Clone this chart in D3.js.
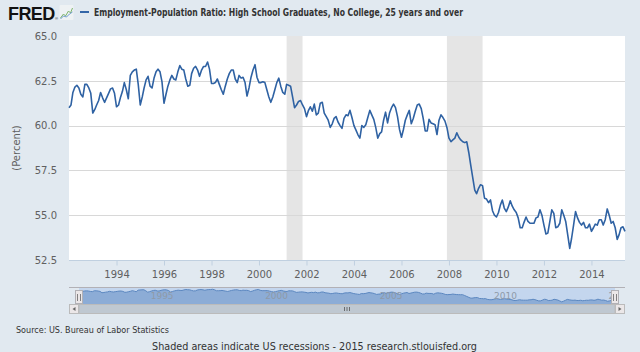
<!DOCTYPE html>
<html><head><meta charset="utf-8">
<script src="https://cdn.jsdelivr.net/npm/d3@7/dist/d3.min.js"></script>
<style>html,body{margin:0;padding:0;background:#e1e9f0;} svg{display:block;}</style>
</head><body>
<svg id="c" width="640" height="352"></svg>
<script>
const titleText = "Employment-Population Ratio: High School Graduates, No College, 25 years and over";
const yAxisTitle = "(Percent)";
const sourceText = "Source: US. Bureau of Labor Statistics";
const footerText = "Shaded areas indicate US recessions - 2015 research.stlouisfed.org";
const firstMonth = "1992-01";
const lastMonth = "2015-06";
// monthly values, Jan 1992 .. Jun 2015
const values = [
61.0,61.15,61.85,62.15,62.25,62.1,61.75,61.6,62.3,62.3,62.1,61.8,
60.7,60.9,61.15,61.4,61.85,61.55,61.3,61.55,61.8,62.05,62.1,61.8,
61.05,61.15,61.55,61.9,62.4,62.0,61.5,62.8,63.0,63.1,63.15,62.3,
61.15,61.6,62.1,62.55,62.75,62.2,62.1,62.65,63.0,63.15,63.0,62.45,
61.25,61.75,62.2,62.55,62.8,62.6,62.55,63.0,63.35,63.15,63.1,62.6,
62.2,62.25,62.9,63.2,63.3,63.1,62.75,63.1,63.3,63.3,63.55,63.15,
62.35,62.35,62.4,62.6,62.3,62.0,61.75,62.2,62.6,62.9,63.1,63.1,
62.6,62.4,62.8,62.65,62.7,62.4,61.65,62.1,62.7,63.1,63.4,62.7,
62.4,62.4,62.45,62.4,62.0,61.6,61.3,61.6,62.0,62.4,62.65,62.2,
61.85,61.75,62.3,62.25,62.2,61.6,61.0,61.15,61.35,61.4,61.15,60.95,
60.5,60.85,61.05,60.8,61.2,60.6,60.7,61.25,61.3,60.7,60.5,60.3,
59.9,60.1,60.4,60.5,60.2,60.0,59.85,60.4,60.6,60.55,60.85,60.45,
60.0,59.75,59.5,59.3,60.0,59.9,60.05,60.45,60.85,60.6,60.35,59.9,
59.3,59.55,59.65,60.3,60.75,60.15,60.7,61.0,61.2,61.0,60.5,59.8,
59.35,59.8,60.3,60.6,60.85,60.1,60.4,60.8,61.15,61.2,60.95,60.4,
59.7,59.7,60.35,60.15,60.1,60.05,59.5,60.3,60.6,60.45,60.25,59.9,
59.3,59.1,59.2,59.3,59.6,59.35,59.2,59.1,59.05,59.1,58.5,57.8,
57.1,56.4,56.2,56.5,56.7,56.65,55.95,55.9,55.7,55.85,55.25,55.0,
54.9,55.15,55.55,55.85,55.4,55.2,55.45,55.8,55.5,55.3,55.15,54.85,
54.3,54.3,54.6,54.9,54.65,54.55,54.55,54.55,54.85,54.9,55.3,55.0,
54.45,53.95,54.0,54.65,55.3,55.1,54.3,54.35,54.55,55.3,55.0,54.65,
53.9,53.15,53.7,54.45,55.2,54.85,54.6,54.45,54.6,54.3,54.3,54.5,
54.1,54.3,54.5,54.45,54.75,54.75,54.45,54.75,55.35,55.0,54.55,54.65,
54.3,53.65,53.9,54.3,54.35,54.1
];
const yTicks = [52.5, 55.0, 57.5, 60.0, 62.5, 65.0];
const xTickYears = [1994, 1996, 1998, 2000, 2002, 2004, 2006, 2008, 2010, 2012, 2014];
const navTickYears = [1995, 2000, 2005, 2010, 2015];
const recessionStarts = ["2001-03", "2007-12"];
const recessionEnds = ["2001-11", "2009-06"];

const parseM = d3.timeParse("%Y-%m");
const t0 = parseM(firstMonth), t1 = parseM(lastMonth);
const data = values.map((v, i) => ({date: d3.timeMonth.offset(t0, i), value: v}));

const svg = d3.select("#c");
const W = 640, H = 352;
svg.append("rect").attr("width", W).attr("height", H).attr("fill", "#e1e9f0");

const pl = 69, pr = 625, pt = 36, pb = 260;
const x = d3.scaleTime().domain([t0, t1]).range([pl, pr]);
const y = d3.scaleLinear().domain([52.5, 65]).range([pb, pt]);

// Header
const hdr = svg.append("g");
const logo = hdr.append("text").attr("x", 8).attr("y", 20)
  .attr("font-family", "Liberation Sans, Arial, sans-serif").attr("font-weight", "bold").attr("fill", "#111");
logo.append("tspan").attr("font-size", 18).attr("letter-spacing", -0.6).text("FRED");
logo.append("tspan").attr("font-size", 4).attr("font-weight", "normal").attr("dx", 0.5).text("®");
// small icon
const ic = hdr.append("g").attr("transform", "translate(59.5,5)");
ic.append("rect").attr("width", 14).attr("height", 15).attr("fill", "#eef2f4").attr("rx", 1);
ic.append("path").attr("d", "M1,13 L4,9 L6,11 L9,6 L11,8 L13,3").attr("fill", "none").attr("stroke", "#7cb36a").attr("stroke-width", 1);
ic.append("path").attr("d", "M1,14 L4,11 L7,12 L10,9 L13,7").attr("fill", "none").attr("stroke", "#6f9ccd").attr("stroke-width", 1);
hdr.append("line").attr("x1", 80).attr("x2", 89).attr("y1", 12).attr("y2", 12)
  .attr("stroke", "#3366a8").attr("stroke-width", 2);
hdr.append("text").attr("x", 94).attr("y", 16).text(titleText)
  .attr("font-family", "DejaVu Sans Condensed, DejaVu Sans, sans-serif").attr("font-weight", "bold")
  .attr("font-size", 10.5).attr("fill", "#333").attr("textLength", 369).attr("lengthAdjust", "spacingAndGlyphs");

// Plot background
svg.append("rect").attr("x", pl).attr("y", pt).attr("width", pr - pl).attr("height", pb - pt).attr("fill", "#ffffff");

// recessions
svg.append("g").selectAll("rect").data(recessionStarts.map((s, i) => [parseM(s), parseM(recessionEnds[i])]))
  .join("rect").attr("x", d => x(d[0])).attr("width", d => x(d[1]) - x(d[0]))
  .attr("y", pt).attr("height", pb - pt).attr("fill", "#e5e5e5");

// gridlines
svg.append("g").selectAll("line").data(yTicks.filter(v => v > 52.5 && v < 65))
  .join("line").attr("x1", pl).attr("x2", pr).attr("y1", d => Math.round(y(d)) + 0.5).attr("y2", d => Math.round(y(d)) + 0.5)
  .attr("stroke", "#d8d8d8").attr("stroke-width", 1);

// Y axis labels
const yAxis = d3.axisLeft(y).tickValues(yTicks).tickFormat(d3.format(".1f")).tickSize(0).tickPadding(12);
const yg = svg.append("g").attr("transform", `translate(${pl},0)`).call(yAxis);
yg.select(".domain").remove();
yg.selectAll("text").attr("font-family", "DejaVu Sans, sans-serif").attr("font-size", 10).attr("fill", "#606060");

svg.append("text").attr("transform", "translate(20,148) rotate(-90)").attr("text-anchor", "middle")
  .text(yAxisTitle).attr("font-family", "DejaVu Sans, sans-serif").attr("font-size", 10).attr("fill", "#606060");

// X axis
const xAxis = d3.axisBottom(x).tickValues(xTickYears.map(yv => new Date(yv, 0, 1)))
  .tickFormat(d3.timeFormat("%Y")).tickSize(5).tickPadding(5);
const xg = svg.append("g").attr("transform", `translate(0,${pb + 0.5})`).call(xAxis);
xg.select(".domain").attr("stroke", "#c0d0e0").attr("d", `M${pl},0H${pr}`);
xg.selectAll(".tick line").attr("stroke", "#c0d0e0");
xg.selectAll("text").attr("font-family", "DejaVu Sans, sans-serif").attr("font-size", 10).attr("fill", "#606060");

// Line
svg.append("path").datum(data)
  .attr("d", d3.line().x(d => x(d.date)).y(d => y(d.value)))
  .attr("fill", "none").attr("stroke", "#2f62a3").attr("stroke-width", 1.6).attr("stroke-linejoin", "round");

// Navigator
const nl = 79, nr = 615, nt = 288, nb = 304;
const nx = d3.scaleTime().domain([t0, t1]).range([nl, nr]);
const ny = d3.scaleLinear().domain([51.4, 64.6]).range([nb, nt]);
const nav = svg.append("g");
nav.append("rect").attr("x", nl).attr("y", nt).attr("width", nr - nl).attr("height", nb - nt).attr("fill", "#c4d6ee");
nav.append("path").datum(data)
  .attr("d", d3.area().x(d => nx(d.date)).y0(nb).y1(d => ny(d.value)))
  .attr("fill", "#8cacd6");
nav.append("path").datum(data)
  .attr("d", d3.line().x(d => nx(d.date)).y(d => ny(d.value)))
  .attr("fill", "none").attr("stroke", "#5b87c0").attr("stroke-width", 1);
nav.append("clipPath").attr("id", "navclip").append("rect").attr("x", nl).attr("y", nt).attr("width", nr - nl - 3).attr("height", nb - nt);
nav.append("g").attr("clip-path", "url(#navclip)").selectAll("text").data(navTickYears)
  .join("text").attr("x", d => nx(new Date(d, 0, 1)) + 3).attr("y", 299).text(d => d)
  .attr("font-family", "DejaVu Sans, sans-serif").attr("font-size", 9).attr("fill", "#8f9aa8");
nav.append("path").attr("d", `M${pl},${nt - 0.5}H${pr}`).attr("stroke", "#b2b1b6").attr("fill", "none");
// handles
[nl, nr].forEach(hx => {
  const g = nav.append("g").attr("transform", `translate(${hx},${nt + 2})`);
  g.append("rect").attr("x", -3.5).attr("y", 0.5).attr("width", 7).attr("height", 13)
    .attr("fill", "#ebe7e8").attr("stroke", "#b2b1b6");
  g.append("path").attr("d", "M-1.5,4V11M1.5,4V11").attr("stroke", "#666").attr("stroke-width", 0.8);
});
// scrollbar
const st = 304, sb = 314;
nav.append("rect").attr("x", pl).attr("y", st).attr("width", pr - pl).attr("height", sb - st).attr("fill", "#eeeeee");
nav.append("rect").attr("x", nl).attr("y", st + 0.5).attr("width", nr - nl).attr("height", sb - st - 1)
  .attr("fill", "#bfc8d1").attr("stroke", "#bbbbbb");
[[pl, nl, -1], [nr, pr, 1]].forEach(([a, b, dir]) => {
  nav.append("rect").attr("x", a + 0.5).attr("y", st + 0.5).attr("width", b - a - 1).attr("height", sb - st - 1)
    .attr("fill", "#ebe7e8").attr("stroke", "#bbbbbb");
  const cx = (a + b) / 2, cy = (st + sb) / 2;
  nav.append("path").attr("d", dir < 0 ? `M${cx + 1.5},${cy - 2}L${cx - 1.5},${cy}L${cx + 1.5},${cy + 2}Z` : `M${cx - 1.5},${cy - 2}L${cx + 1.5},${cy}L${cx - 1.5},${cy + 2}Z`)
    .attr("fill", "#666");
});
const gx = (nl + nr) / 2;
nav.append("path").attr("d", `M${gx - 2.5},${st + 3}V${sb - 3}M${gx},${st + 3}V${sb - 3}M${gx + 2.5},${st + 3}V${sb - 3}`)
  .attr("stroke", "#555").attr("stroke-width", 0.8);

// footer
svg.append("text").attr("x", 16).attr("y", 333).text(sourceText)
  .attr("font-family", "DejaVu Sans Condensed, DejaVu Sans, sans-serif").attr("font-size", 9).attr("fill", "#333")
  .attr("textLength", 153).attr("lengthAdjust", "spacingAndGlyphs");
svg.append("text").attr("x", 152).attr("y", 350).text(footerText)
  .attr("font-family", "DejaVu Sans Condensed, DejaVu Sans, sans-serif").attr("font-size", 11).attr("fill", "#333")
  .attr("textLength", 325).attr("lengthAdjust", "spacingAndGlyphs");
</script>
</body></html>
